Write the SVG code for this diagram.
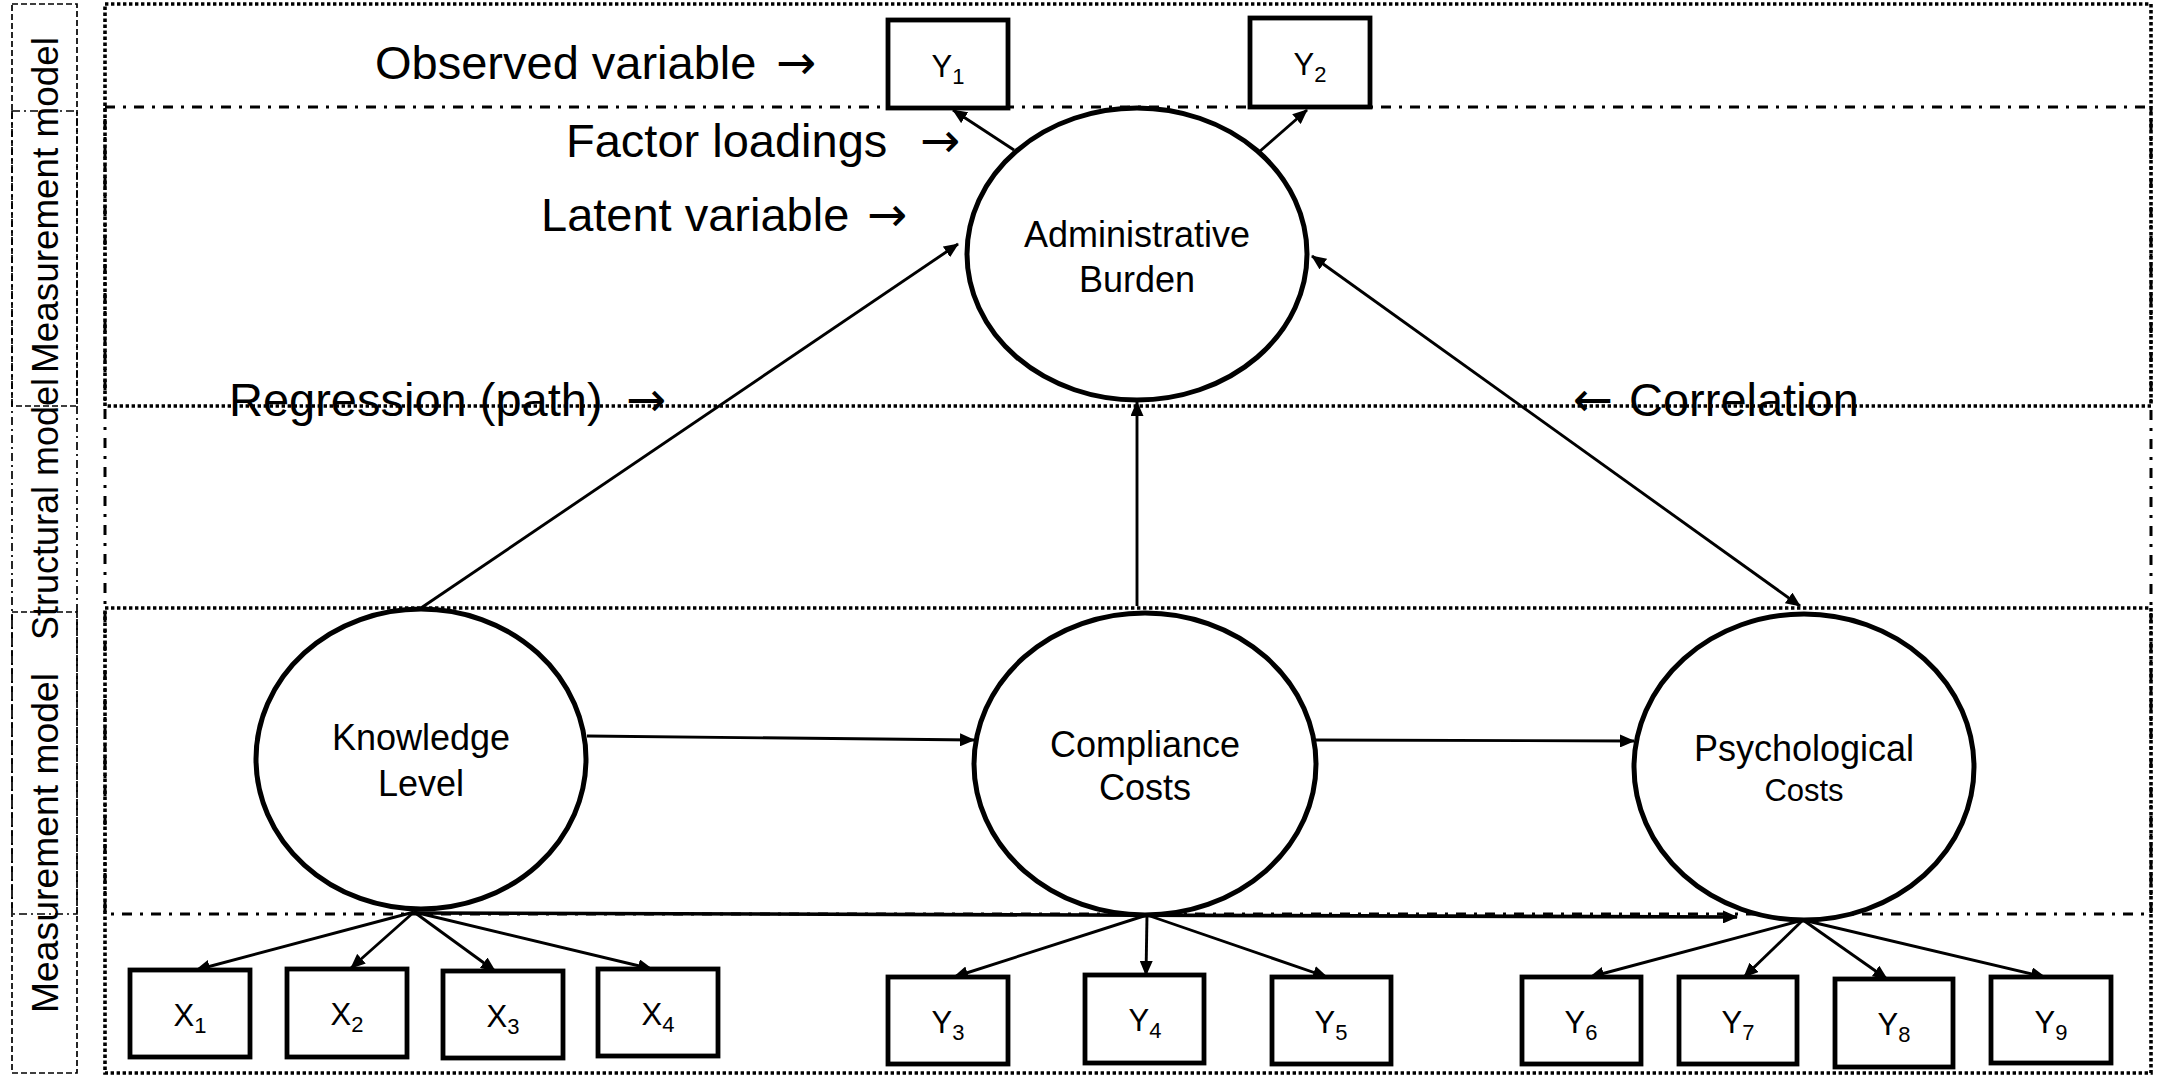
<svg xmlns="http://www.w3.org/2000/svg" width="2179" height="1081" viewBox="0 0 2179 1081">
<defs>
<style>
.dot{fill:none;stroke:#000;stroke-width:3.6;stroke-dasharray:3.4 2.6}
.dd{fill:none;stroke:#000;stroke-width:3;stroke-dasharray:10 8 3 8}
.tdash{fill:none;stroke:#000;stroke-width:1.7;stroke-dasharray:6 3}
.tdd{fill:none;stroke:#000;stroke-width:1.7;stroke-dasharray:8 4 2 4}
.lat{fill:#fff;stroke:#000;stroke-width:5}
.obs{fill:#fff;stroke:#000;stroke-width:4.8}
.c{fill:none;stroke:#000;stroke-width:2.9;marker-end:url(#ah)}
text{font-family:"Liberation Sans",Arial,sans-serif;fill:#000}
.big{font-size:47px}
.ar{font-family:"DejaVu Sans",sans-serif;font-size:48px}
.side{font-size:37px}
.en{font-size:36px;text-anchor:middle}
.bx{font-size:31px;text-anchor:middle}
</style>
<marker id="ah" viewBox="0 0 15 13" refX="14" refY="6.5" markerWidth="15" markerHeight="13" markerUnits="userSpaceOnUse" orient="auto-start-reverse">
<path d="M0,0 L15,6.5 L0,13 z" fill="#000"/>
</marker>
</defs>

<g id="frame">
<rect class="dot" x="105" y="4" width="2046" height="402"/>
<rect class="dot" x="105" y="608" width="2046" height="465"/>
<rect class="dd" x="105" y="107" width="2046" height="807"/>
<rect class="tdash" x="12" y="4" width="65" height="402"/>
<rect class="tdash" x="12" y="612" width="65" height="461"/>
<rect class="tdd" x="12" y="111" width="65" height="803"/>
</g>

<g id="side-labels">
<text class="side" transform="translate(58,205) rotate(-90)" text-anchor="middle" textLength="336" lengthAdjust="spacingAndGlyphs">Measurement model</text>
<text class="side" transform="translate(58,509) rotate(-90)" text-anchor="middle" textLength="262" lengthAdjust="spacingAndGlyphs">Structural model</text>
<text class="side" transform="translate(58,843) rotate(-90)" text-anchor="middle" textLength="340" lengthAdjust="spacingAndGlyphs">Measurement model</text>
</g>

<g id="legend">
<text class="big" x="375" y="79">Observed variable <tspan class="ar" x="776">→</tspan></text>
<text class="big" x="566" y="157">Factor loadings <tspan class="ar" x="920">→</tspan></text>
<text class="big" x="541" y="231">Latent variable <tspan class="ar" x="867">→</tspan></text>
<text class="big" x="229" y="416">Regression (path) <tspan class="ar" x="626">→</tspan></text>
<text class="big" x="1573" y="416"><tspan class="ar">←</tspan> <tspan x="1629">Correlation</tspan></text>
</g>

<g id="connectors">
<line class="c" x1="1014" y1="150" x2="953" y2="110"/>
<line class="c" x1="1259" y1="152" x2="1307" y2="110"/>
<line class="c" x1="421" y1="608" x2="958" y2="244"/>
<line class="c" x1="1137" y1="606" x2="1137" y2="402"/>
<line class="c" x1="1312" y1="256" x2="1800" y2="606" marker-start="url(#ah)"/>
<line class="c" x1="587" y1="736" x2="974" y2="740"/>
<line class="c" x1="1316" y1="740" x2="1634" y2="741"/>
<line class="c" x1="414" y1="913" x2="1737" y2="917" style="stroke-width:3.6"/>
<line class="c" x1="414" y1="912" x2="196" y2="970"/>
<line class="c" x1="414" y1="912" x2="351" y2="968"/>
<line class="c" x1="414" y1="912" x2="495" y2="971"/>
<line class="c" x1="414" y1="912" x2="652" y2="969"/>
<line class="c" x1="1147" y1="915" x2="954" y2="977"/>
<line class="c" x1="1147" y1="915" x2="1146" y2="975"/>
<line class="c" x1="1147" y1="915" x2="1327" y2="977"/>
<line class="c" x1="1803" y1="920" x2="1590" y2="977"/>
<line class="c" x1="1803" y1="920" x2="1744" y2="977"/>
<line class="c" x1="1803" y1="920" x2="1887" y2="979"/>
<line class="c" x1="1803" y1="920" x2="2045" y2="977"/>
</g>

<g id="admin-burden">
<ellipse class="lat" cx="1137" cy="254" rx="170" ry="146"/>
<text class="en" x="1137" y="247">Administrative</text>
<text class="en" x="1137" y="292">Burden</text>
</g>
<g id="knowledge-level">
<ellipse class="lat" cx="421" cy="759" rx="165" ry="150"/>
<text class="en" x="421" y="750">Knowledge</text>
<text class="en" x="421" y="796">Level</text>
</g>
<g id="compliance-costs">
<ellipse class="lat" cx="1145" cy="764" rx="171" ry="151"/>
<text class="en" x="1145" y="757">Compliance</text>
<text class="en" x="1145" y="800">Costs</text>
</g>
<g id="psychological-costs">
<ellipse class="lat" cx="1804" cy="767" rx="170" ry="153"/>
<text class="en" x="1804" y="761">Psychological</text>
<text class="en" x="1804" y="801" style="font-size:31px">Costs</text>
</g>

<g id="Y1"><rect class="obs" x="888" y="20" width="120" height="88"/><text class="bx" x="948" y="77">Y<tspan font-size="22" dy="7">1</tspan></text></g>
<g id="Y2"><rect class="obs" x="1250" y="18" width="120" height="89"/><text class="bx" x="1310" y="75">Y<tspan font-size="22" dy="7">2</tspan></text></g>
<g id="X1"><rect class="obs" x="130" y="970" width="120" height="87"/><text class="bx" x="190" y="1026">X<tspan font-size="22" dy="7">1</tspan></text></g>
<g id="X2"><rect class="obs" x="287" y="969" width="120" height="88"/><text class="bx" x="347" y="1025">X<tspan font-size="22" dy="7">2</tspan></text></g>
<g id="X3"><rect class="obs" x="443" y="971" width="120" height="87"/><text class="bx" x="503" y="1027">X<tspan font-size="22" dy="7">3</tspan></text></g>
<g id="X4"><rect class="obs" x="598" y="969" width="120" height="87"/><text class="bx" x="658" y="1025">X<tspan font-size="22" dy="7">4</tspan></text></g>
<g id="Y3"><rect class="obs" x="888" y="977" width="120" height="87"/><text class="bx" x="948" y="1033">Y<tspan font-size="22" dy="7">3</tspan></text></g>
<g id="Y4"><rect class="obs" x="1085" y="975" width="119" height="88"/><text class="bx" x="1145" y="1031">Y<tspan font-size="22" dy="7">4</tspan></text></g>
<g id="Y5"><rect class="obs" x="1272" y="977" width="119" height="87"/><text class="bx" x="1331" y="1033">Y<tspan font-size="22" dy="7">5</tspan></text></g>
<g id="Y6"><rect class="obs" x="1522" y="977" width="119" height="87"/><text class="bx" x="1581" y="1033">Y<tspan font-size="22" dy="7">6</tspan></text></g>
<g id="Y7"><rect class="obs" x="1679" y="977" width="118" height="87"/><text class="bx" x="1738" y="1033">Y<tspan font-size="22" dy="7">7</tspan></text></g>
<g id="Y8"><rect class="obs" x="1835" y="979" width="118" height="88"/><text class="bx" x="1894" y="1035">Y<tspan font-size="22" dy="7">8</tspan></text></g>
<g id="Y9"><rect class="obs" x="1991" y="977" width="120" height="86"/><text class="bx" x="2051" y="1033">Y<tspan font-size="22" dy="7">9</tspan></text></g>
</svg>
